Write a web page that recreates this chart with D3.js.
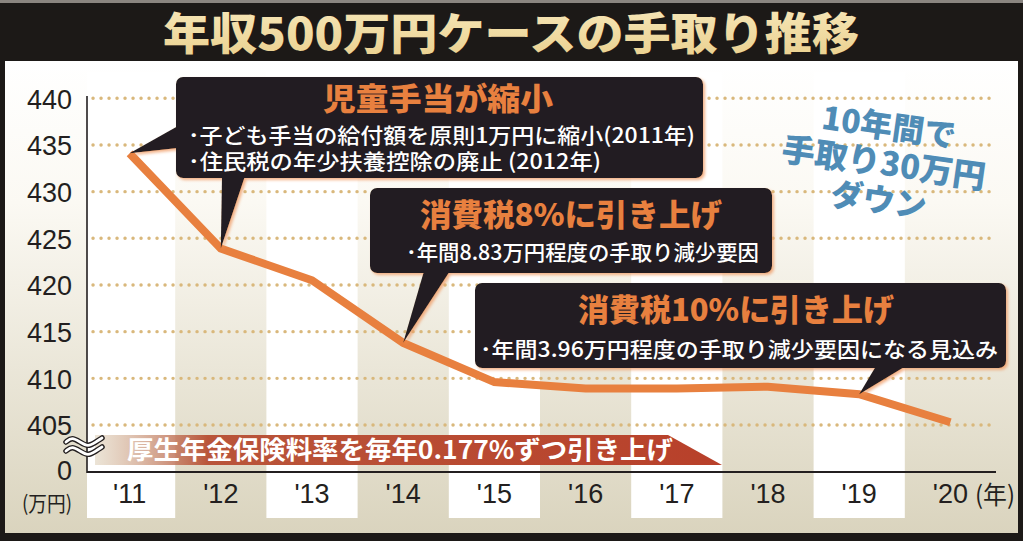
<!DOCTYPE html>
<html>
<head>
<meta charset="utf-8">
<script src="https://cdn.jsdelivr.net/npm/d3@7"></script>
<style>
  html, body { margin: 0; padding: 0; background: #1c1917; }
  svg { display: block; }
</style>
</head>
<body>
<svg id="chart" width="1023" height="541"></svg>
<script>
// values (unit: 万円)
const years = [2011, 2012, 2013, 2014, 2015, 2016, 2017, 2018, 2019, 2020]
const yearLabels = ["'11", "'12", "'13", "'14", "'15", "'16", "'17", "'18", "'19", "'20"]
const takeHome = [434.1, 423.9, 420.5, 413.8, 409.6, 408.9, 408.9, 409.1, 408.3, 405.3]
const yTicks = [405, 410, 415, 420, 425, 430, 435, 440]

const titleText = '年収500万円ケースの手取り推移'
const blueLines = ['10年間で', '手取り30万円', 'ダウン']
const bannerText = '厚生年金保険料率を毎年0.177%ずつ引き上げ'

const jp = "'Noto Sans CJK JP', 'Noto Sans', sans-serif"
const num = "'Liberation Sans', Arial, sans-serif"
const dark = '#231f20'
const orange = '#e8803f'

const svg = d3.select('#chart')
const defs = svg.append('defs')

const panelGrad = defs.append('linearGradient')
  .attr('id', 'panelGrad').attr('x1', 0).attr('y1', 0).attr('x2', 0).attr('y2', 1)
panelGrad.append('stop').attr('offset', '0%').attr('stop-color', '#ffffff')
panelGrad.append('stop').attr('offset', '30%').attr('stop-color', '#fbf9f3')
panelGrad.append('stop').attr('offset', '100%').attr('stop-color', '#dad4be')

const titleGrad = defs.append('linearGradient')
  .attr('id', 'titleGrad').attr('x1', 0).attr('y1', 0).attr('x2', 0).attr('y2', 1)
titleGrad.append('stop').attr('offset', '0%').attr('stop-color', '#f8e9bd')
titleGrad.append('stop').attr('offset', '100%').attr('stop-color', '#e9cf8c')

const bannerGrad = defs.append('linearGradient')
  .attr('id', 'bannerGrad').attr('gradientUnits', 'userSpaceOnUse')
  .attr('x1', 95).attr('y1', 0).attr('x2', 722).attr('y2', 0)
bannerGrad.append('stop').attr('offset', '0%').attr('stop-color', '#d8c9ae').attr('stop-opacity', 0.5)
bannerGrad.append('stop').attr('offset', '18%').attr('stop-color', '#b9553a')
bannerGrad.append('stop').attr('offset', '100%').attr('stop-color', '#b8402a')

const glow = defs.append('filter').attr('id', 'glow')
  .attr('x', '-5%').attr('y', '-10%').attr('width', '110%').attr('height', '125%')
glow.append('feDropShadow')
  .attr('dx', 2).attr('dy', 2).attr('stdDeviation', 1.5)
  .attr('flood-color', '#f09a62').attr('flood-opacity', 0.75)

// frame + title bar
svg.append('rect').attr('width', 1023).attr('height', 541).attr('fill', '#1c1917')
svg.append('rect').attr('width', 1023).attr('height', 3).attr('fill', '#8a8580')
svg.append('rect')
  .attr('x', 5).attr('y', 61).attr('width', 1013).attr('height', 472)
  .attr('fill', 'url(#panelGrad)')

svg.append('text')
  .attr('x', 511).attr('y', 50)
  .attr('text-anchor', 'middle')
  .attr('font-family', jp).attr('font-weight', 900).attr('font-size', 44)
  .attr('textLength', 696).attr('lengthAdjust', 'spacingAndGlyphs')
  .attr('fill', 'url(#titleGrad)')
  .text(titleText)

// scales
const x = d3.scaleBand().domain(years).range([84, 996])
const y = d3.scaleLinear().domain([405, 440]).range([425, 98.3])
const cx = d => x(d) + x.bandwidth() / 2

// white column bands
svg.append('g').selectAll('rect')
  .data(years.filter((d, i) => i % 2 === 0))
  .join('rect')
  .attr('x', d => Math.max(x(d), 87))
  .attr('y', 72)
  .attr('width', d => x(d) + x.bandwidth() - Math.max(x(d), 87))
  .attr('height', 446)
  .attr('fill', '#ffffff')

// dotted grid
svg.append('g').selectAll('line')
  .data(yTicks)
  .join('line')
  .attr('x1', 93).attr('x2', 996)
  .attr('y1', d => y(d)).attr('y2', d => y(d))
  .attr('stroke', '#d9b87c')
  .attr('stroke-width', 3.4)
  .attr('stroke-linecap', 'round')
  .attr('stroke-dasharray', '0.1 7.9')

// y axis
const yAxis = svg.append('g')
  .attr('transform', 'translate(87,0)')
  .call(d3.axisLeft(y).tickValues(yTicks).tickSize(0).tickPadding(15))
yAxis.select('.domain').remove()
yAxis.selectAll('text')
  .attr('font-family', num).attr('font-size', 27).attr('fill', dark)
  .attr('dy', '0.36em')

svg.append('line')
  .attr('x1', 87).attr('x2', 87).attr('y1', 96).attr('y2', 473)
  .attr('stroke', dark).attr('stroke-width', 1.6)

svg.append('text')
  .attr('x', 72).attr('y', 480).attr('text-anchor', 'end')
  .attr('font-family', num).attr('font-size', 27).attr('fill', dark)
  .text('0')
svg.append('text')
  .attr('x', 22).attr('y', 511)
  .attr('font-family', jp).attr('font-size', 21).attr('fill', dark)
  .attr('textLength', 50).attr('lengthAdjust', 'spacingAndGlyphs')
  .text('(万円)')

// x axis
const xAxis = svg.append('g')
  .attr('transform', 'translate(0,472)')
  .call(d3.axisBottom(x).tickSize(0).tickPadding(12).tickFormat((d, i) => yearLabels[i]))
xAxis.select('.domain').remove()
xAxis.selectAll('text')
  .attr('font-family', num).attr('font-size', 27).attr('fill', dark)

svg.append('line')
  .attr('x1', 87).attr('x2', 996).attr('y1', 472).attr('y2', 472)
  .attr('stroke', dark).attr('stroke-width', 1.8)

svg.append('text')
  .attr('x', 975).attr('y', 504)
  .attr('font-family', jp).attr('font-size', 25).attr('fill', dark)
  .attr('textLength', 40).attr('lengthAdjust', 'spacingAndGlyphs')
  .text('(年)')

// take-home line
const line = d3.line()
  .x((d, i) => cx(years[i]))
  .y(d => y(d))
svg.append('path')
  .datum(takeHome)
  .attr('d', line)
  .attr('fill', 'none')
  .attr('stroke', orange)
  .attr('stroke-width', 8)
  .attr('stroke-linejoin', 'miter')

// pension banner
svg.append('path')
  .attr('d', 'M95,435 L668,435 L722,465 L95,465 Z')
  .attr('fill', 'url(#bannerGrad)')
svg.append('text')
  .attr('x', 127).attr('y', 459)
  .attr('font-family', jp).attr('font-weight', 700).attr('font-size', 25)
  .attr('textLength', 546).attr('lengthAdjust', 'spacingAndGlyphs')
  .attr('fill', '#ffffff')
  .text(bannerText)

// axis break marks
const wave = d3.line().curve(d3.curveBasis)
;[442, 451].forEach(yy => {
  const pts = [[66, yy], [72, yy - 5], [80, yy], [88, yy + 5], [96, yy], [102, yy - 4]]
  svg.append('path').attr('d', wave(pts)).attr('fill', 'none')
    .attr('stroke', dark).attr('stroke-width', 5.5).attr('stroke-linecap', 'round')
  svg.append('path').attr('d', wave(pts)).attr('fill', 'none')
    .attr('stroke', '#ffffff').attr('stroke-width', 2.8).attr('stroke-linecap', 'round')
})

// blue note
const note = svg.append('g')
  .attr('transform', 'translate(884,162) rotate(8)')
note.selectAll('text')
  .data(blueLines)
  .join('text')
  .attr('x', 0)
  .attr('y', (d, i) => -24 + i * 37)
  .attr('text-anchor', 'middle')
  .attr('font-family', jp).attr('font-weight', 900)
  .attr('font-size', (d, i) => i === 1 ? 33 : 32)
  .attr('fill', '#4f8cb6')
  .text(d => d)

// callouts
const callouts = [
  {
    box: [176, 77, 527, 101],
    pointers: [
      { base: [[178, 126], [178, 148]], year: 2011 },
      { base: [[222, 176], [245, 176]], year: 2012 }
    ],
    title: '児童手当が縮小', titleX: 438, titleY: 110, titleW: 230,
    lines: [
      { t: '･子ども手当の給付額を原則1万円に縮小(2011年)', x: 188, y: 143, w: 507 },
      { t: '･住民税の年少扶養控除の廃止 (2012年)', x: 188, y: 169, w: 413 }
    ]
  },
  {
    box: [370, 188, 402, 85],
    pointers: [{ base: [[424, 271], [450, 271]], year: 2014 }],
    title: '消費税8%に引き上げ', titleX: 571, titleY: 226, titleW: 302,
    lines: [{ t: '･年間8.83万円程度の手取り減少要因', x: 406, y: 260, w: 353 }]
  },
  {
    box: [475, 283, 531, 85],
    pointers: [{ base: [[876, 366], [906, 366]], year: 2019 }],
    title: '消費税10%に引き上げ', titleX: 736, titleY: 321, titleW: 316,
    lines: [{ t: '･年間3.96万円程度の手取り減少要因になる見込み', x: 480, y: 357, w: 518 }]
  }
]

callouts.forEach(c => {
  const g = svg.append('g')
  const shape = g.append('g').attr('filter', 'url(#glow)')
  shape.append('rect')
    .attr('x', c.box[0]).attr('y', c.box[1])
    .attr('width', c.box[2]).attr('height', c.box[3])
    .attr('rx', 7)
    .attr('fill', dark)
  c.pointers.forEach(p => {
    const i = years.indexOf(p.year)
    const tip = [cx(p.year), y(takeHome[i])]
    shape.append('path')
      .attr('d', `M${p.base[0]}L${tip}L${p.base[1]}Z`)
      .attr('fill', dark)
  })
  g.append('text')
    .attr('x', c.titleX).attr('y', c.titleY)
    .attr('text-anchor', 'middle')
    .attr('font-family', jp).attr('font-weight', 900).attr('font-size', 31)
    .attr('textLength', c.titleW).attr('lengthAdjust', 'spacingAndGlyphs')
    .attr('fill', orange)
    .text(c.title)
  g.selectAll('text.line')
    .data(c.lines)
    .join('text')
    .attr('class', 'line')
    .attr('x', d => d.x).attr('y', d => d.y)
    .attr('font-family', jp).attr('font-weight', 500).attr('font-size', 21)
    .attr('textLength', d => d.w).attr('lengthAdjust', 'spacingAndGlyphs')
    .attr('fill', '#ffffff')
    .text(d => d.t)
})
</script>
</body>
</html>
